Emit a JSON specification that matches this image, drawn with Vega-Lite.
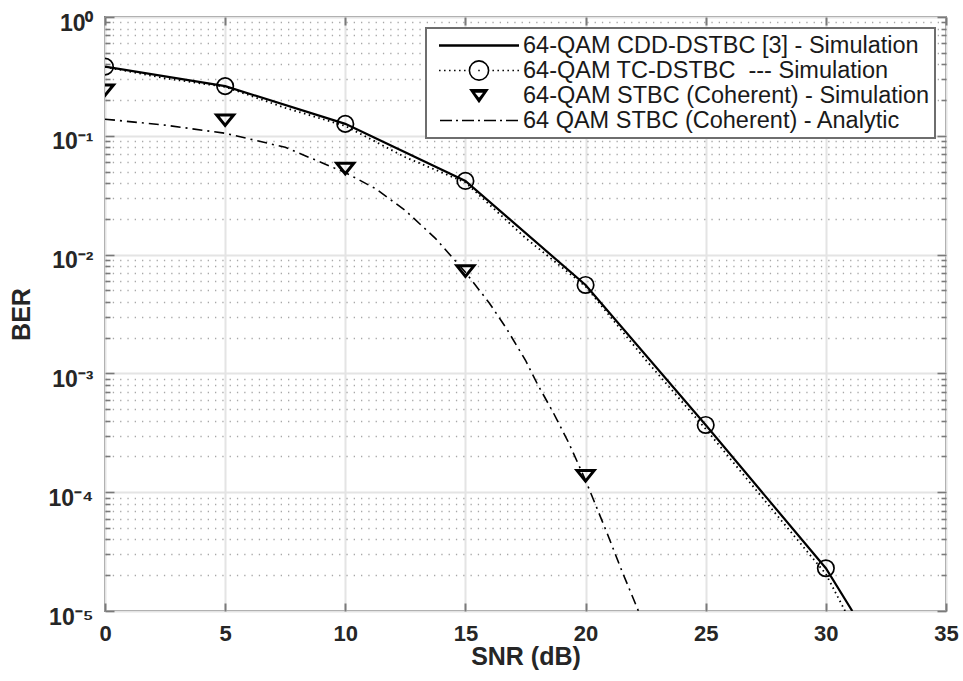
{
  "$schema": "https://vega.github.io/schema/vega-lite/v6.json",
  "width": 841,
  "height": 594,
  "autosize": {"type": "none"},
  "padding": {"left": 105, "top": 17, "right": 17, "bottom": 70},
  "background": "white",
  "datasets": {
    "lines": [
      {"series": "64-QAM CDD-DSTBC [3] - Simulation", "snr": 0, "ber": 0.382},
      {"series": "64-QAM CDD-DSTBC [3] - Simulation", "snr": 5, "ber": 0.262},
      {"series": "64-QAM CDD-DSTBC [3] - Simulation", "snr": 10, "ber": 0.126},
      {"series": "64-QAM CDD-DSTBC [3] - Simulation", "snr": 15, "ber": 0.0417},
      {"series": "64-QAM CDD-DSTBC [3] - Simulation", "snr": 20, "ber": 0.00555},
      {"series": "64-QAM CDD-DSTBC [3] - Simulation", "snr": 25, "ber": 0.000368},
      {"series": "64-QAM CDD-DSTBC [3] - Simulation", "snr": 30, "ber": 0.0000229},
      {"series": "64-QAM CDD-DSTBC [3] - Simulation", "snr": 31.1, "ber": 0.00001},
      {"series": "64-QAM TC-DSTBC\u00a0 --- Simulation", "snr": 0, "ber": 0.38},
      {"series": "64-QAM TC-DSTBC\u00a0 --- Simulation", "snr": 2.5, "ber": 0.305},
      {"series": "64-QAM TC-DSTBC\u00a0 --- Simulation", "snr": 5, "ber": 0.258},
      {"series": "64-QAM TC-DSTBC\u00a0 --- Simulation", "snr": 7.5, "ber": 0.172},
      {"series": "64-QAM TC-DSTBC\u00a0 --- Simulation", "snr": 10, "ber": 0.121},
      {"series": "64-QAM TC-DSTBC\u00a0 --- Simulation", "snr": 12.5, "ber": 0.066},
      {"series": "64-QAM TC-DSTBC\u00a0 --- Simulation", "snr": 15, "ber": 0.0405},
      {"series": "64-QAM TC-DSTBC\u00a0 --- Simulation", "snr": 17.5, "ber": 0.0138},
      {"series": "64-QAM TC-DSTBC\u00a0 --- Simulation", "snr": 20, "ber": 0.0054},
      {"series": "64-QAM TC-DSTBC\u00a0 --- Simulation", "snr": 22.5, "ber": 0.0013},
      {"series": "64-QAM TC-DSTBC\u00a0 --- Simulation", "snr": 25, "ber": 0.00034},
      {"series": "64-QAM TC-DSTBC\u00a0 --- Simulation", "snr": 27.5, "ber": 0.000083},
      {"series": "64-QAM TC-DSTBC\u00a0 --- Simulation", "snr": 30, "ber": 0.0000205},
      {"series": "64-QAM TC-DSTBC\u00a0 --- Simulation", "snr": 30.8, "ber": 0.00001},
      {"series": "64 QAM STBC (Coherent) - Analytic", "snr": 0, "ber": 0.138},
      {"series": "64 QAM STBC (Coherent) - Analytic", "snr": 2.5, "ber": 0.123},
      {"series": "64 QAM STBC (Coherent) - Analytic", "snr": 5, "ber": 0.105},
      {"series": "64 QAM STBC (Coherent) - Analytic", "snr": 7.5, "ber": 0.08},
      {"series": "64 QAM STBC (Coherent) - Analytic", "snr": 10, "ber": 0.049},
      {"series": "64 QAM STBC (Coherent) - Analytic", "snr": 11.25, "ber": 0.036},
      {"series": "64 QAM STBC (Coherent) - Analytic", "snr": 12.5, "ber": 0.0235},
      {"series": "64 QAM STBC (Coherent) - Analytic", "snr": 13.75, "ber": 0.0137},
      {"series": "64 QAM STBC (Coherent) - Analytic", "snr": 15, "ber": 0.0071},
      {"series": "64 QAM STBC (Coherent) - Analytic", "snr": 16, "ber": 0.0039},
      {"series": "64 QAM STBC (Coherent) - Analytic", "snr": 16.7, "ber": 0.0024},
      {"series": "64 QAM STBC (Coherent) - Analytic", "snr": 17.5, "ber": 0.00129},
      {"series": "64 QAM STBC (Coherent) - Analytic", "snr": 18, "ber": 0.00081},
      {"series": "64 QAM STBC (Coherent) - Analytic", "snr": 18.65, "ber": 0.00047},
      {"series": "64 QAM STBC (Coherent) - Analytic", "snr": 19.3, "ber": 0.00026},
      {"series": "64 QAM STBC (Coherent) - Analytic", "snr": 20, "ber": 0.000126},
      {"series": "64 QAM STBC (Coherent) - Analytic", "snr": 20.9, "ber": 0.000045},
      {"series": "64 QAM STBC (Coherent) - Analytic", "snr": 21.5, "ber": 0.000022},
      {"series": "64 QAM STBC (Coherent) - Analytic", "snr": 22.2, "ber": 0.00001}
    ],
    "markers": [
      {"series": "64-QAM TC-DSTBC\u00a0 --- Simulation", "snr": 0, "ber": 0.382},
      {"series": "64-QAM TC-DSTBC\u00a0 --- Simulation", "snr": 5, "ber": 0.262},
      {"series": "64-QAM TC-DSTBC\u00a0 --- Simulation", "snr": 10, "ber": 0.126},
      {"series": "64-QAM TC-DSTBC\u00a0 --- Simulation", "snr": 15, "ber": 0.0417},
      {"series": "64-QAM TC-DSTBC\u00a0 --- Simulation", "snr": 20, "ber": 0.00555},
      {"series": "64-QAM TC-DSTBC\u00a0 --- Simulation", "snr": 25, "ber": 0.000368},
      {"series": "64-QAM TC-DSTBC\u00a0 --- Simulation", "snr": 30, "ber": 0.0000229},
      {"series": "64-QAM STBC (Coherent) - Simulation", "snr": 0, "ber": 0.243},
      {"series": "64-QAM STBC (Coherent) - Simulation", "snr": 5, "ber": 0.136},
      {"series": "64-QAM STBC (Coherent) - Simulation", "snr": 10, "ber": 0.0533},
      {"series": "64-QAM STBC (Coherent) - Simulation", "snr": 15, "ber": 0.0073},
      {"series": "64-QAM STBC (Coherent) - Simulation", "snr": 20, "ber": 0.000138}
    ]
  },
  "layer": [
    {
      "data": {"name": "lines"},
      "transform": [{"filter": "datum.series == '64-QAM CDD-DSTBC [3] - Simulation'"}],
      "mark": {"type": "line", "color": "black", "clip": true, "strokeCap": "butt", "strokeWidth": 2.2},
      "encoding": {
        "x": {
          "field": "snr", "type": "quantitative",
          "scale": {"domain": [0, 35], "nice": false, "zero": false},
          "axis": {
            "orient": "bottom",
            "values": [0, 5, 10, 15, 20, 25, 30, 35],
            "title": "SNR (dB)",
            "grid": true, "gridColor": "#e4e4e4", "gridWidth": 2,
            "domain": false,
            "ticks": true, "tickSize": -8, "tickColor": "#7a7a7a", "tickWidth": 2,
            "labelFontSize": 22, "labelFontWeight": "bold", "labelColor": "#262626",
            "labelPadding": 20, "labelFlush": false,
            "titleFontSize": 25, "titleFontWeight": "bold", "titleColor": "#262626", "titlePadding": 0
          }
        },
        "y": {
          "field": "ber", "type": "quantitative",
          "scale": {"type": "log", "domain": [0.00001, 1], "nice": false},
          "axis": {
            "orient": "left",
            "values": [0.00001,0.00002,0.00003,0.00004,0.00005,0.00006,0.00007,0.00008,0.00009,0.0001,0.0002,0.0003,0.0004,0.0005,0.0006,0.0007,0.0008,0.0009,0.001,0.002,0.003,0.004,0.005,0.006,0.007,0.008,0.009,0.01,0.02,0.03,0.04,0.05,0.06,0.07,0.08,0.09,0.1,0.2,0.3,0.4,0.5,0.6,0.7,0.8,0.9,1],
            "labelExpr": "abs(log(datum.value)/LN10-round(log(datum.value)/LN10))<0.001 ? ['10⁰','10⁻¹','10⁻²','10⁻³','10⁻⁴','10⁻⁵'][abs(round(log(datum.value)/LN10))] : ''",
            "labelOverlap": false, "labelFlush": false,
            "title": "BER",
            "grid": true,
            "gridColor": {"condition": {"test": "abs(log(datum.value)/LN10-round(log(datum.value)/LN10))<0.001", "value": "#e4e4e4"}, "value": "#a8a8a8"},
            "gridWidth": {"condition": {"test": "abs(log(datum.value)/LN10-round(log(datum.value)/LN10))<0.001", "value": 2}, "value": 1.3},
            "gridDash": {"condition": {"test": "abs(log(datum.value)/LN10-round(log(datum.value)/LN10))<0.001", "value": []}, "value": [1.3, 6]},
            "domain": false,
            "ticks": true,
            "tickSize": {"condition": {"test": "abs(log(datum.value)/LN10-round(log(datum.value)/LN10))<0.001", "value": -9}, "value": -5},
            "tickColor": "#7a7a7a", "tickWidth": 1.6,
            "labelFontSize": 23, "labelFontWeight": "bold", "labelColor": "#262626",
            "labelPadding": 21, "labelOffset": 6,
            "titleFontSize": 25, "titleFontWeight": "bold", "titleColor": "#262626", "titlePadding": 14
          }
        }
      }
    },
    {
      "data": {"name": "lines"},
      "transform": [{"filter": "indexof(datum.series, 'TC-DSTBC') >= 0"}],
      "mark": {"type": "line", "color": "black", "clip": true, "strokeCap": "butt", "strokeWidth": 1.8, "strokeDash": [1.5, 3.5]},
      "encoding": {
        "x": {"field": "snr", "type": "quantitative", "scale": {"domain": [0, 35], "nice": false, "zero": false}, "axis": null},
        "y": {"field": "ber", "type": "quantitative", "scale": {"type": "log", "domain": [0.00001, 1], "nice": false}, "axis": null}
      }
    },
    {
      "data": {"name": "lines"},
      "transform": [{"filter": "datum.series == '64 QAM STBC (Coherent) - Analytic'"}],
      "mark": {"type": "line", "color": "black", "clip": true, "strokeCap": "butt", "strokeWidth": 1.6, "strokeDash": [10, 5, 2, 5]},
      "encoding": {
        "x": {"field": "snr", "type": "quantitative", "scale": {"domain": [0, 35], "nice": false, "zero": false}, "axis": null},
        "y": {"field": "ber", "type": "quantitative", "scale": {"type": "log", "domain": [0.00001, 1], "nice": false}, "axis": null}
      }
    },
    {
      "data": {"name": "markers"},
      "transform": [{"filter": "indexof(datum.series, 'TC-DSTBC') >= 0"}],
      "mark": {"type": "point", "shape": "circle", "filled": false, "color": "black", "clip": true, "opacity": 1, "size": 270, "strokeWidth": 1.7},
      "encoding": {
        "x": {
          "field": "snr", "type": "quantitative",
          "scale": {"domain": [0, 35], "nice": false, "zero": false},
          "axis": {
            "orient": "top", "values": [0, 5, 10, 15, 20, 25, 30, 35],
            "labels": false, "title": null, "grid": false, "domain": false,
            "ticks": true, "tickSize": -8, "tickColor": "#7a7a7a", "tickWidth": 2
          }
        },
        "y": {
          "field": "ber", "type": "quantitative",
          "scale": {"type": "log", "domain": [0.00001, 1], "nice": false},
          "axis": {
            "orient": "right",
            "values": [0.00001,0.00002,0.00003,0.00004,0.00005,0.00006,0.00007,0.00008,0.00009,0.0001,0.0002,0.0003,0.0004,0.0005,0.0006,0.0007,0.0008,0.0009,0.001,0.002,0.003,0.004,0.005,0.006,0.007,0.008,0.009,0.01,0.02,0.03,0.04,0.05,0.06,0.07,0.08,0.09,0.1,0.2,0.3,0.4,0.5,0.6,0.7,0.8,0.9,1],
            "labels": false, "title": null, "grid": false, "domain": false,
            "ticks": true,
            "tickSize": {"condition": {"test": "abs(log(datum.value)/LN10-round(log(datum.value)/LN10))<0.001", "value": -9}, "value": -5},
            "tickColor": "#7a7a7a", "tickWidth": 1.6
          }
        }
      }
    },
    {
      "data": {"name": "markers"},
      "transform": [{"filter": "datum.series == '64-QAM STBC (Coherent) - Simulation'"}],
      "mark": {"type": "point", "shape": "M-0.85,-0.5L0.85,-0.5L0,0.55Z", "filled": false, "color": "black", "clip": true, "opacity": 1, "size": 400, "strokeWidth": 3, "strokeJoin": "miter"},
      "encoding": {
        "x": {"field": "snr", "type": "quantitative", "scale": {"domain": [0, 35], "nice": false, "zero": false}, "axis": null},
        "y": {"field": "ber", "type": "quantitative", "scale": {"type": "log", "domain": [0.00001, 1], "nice": false}, "axis": null}
      }
    },
    {
      "data": {"name": "markers"},
      "mark": {"type": "point", "filled": false, "color": "black", "opacity": 0, "size": 1, "strokeWidth": 1.6},
      "encoding": {
        "x": {"field": "snr", "type": "quantitative", "scale": {"domain": [0, 35], "nice": false, "zero": false}, "axis": null},
        "y": {"field": "ber", "type": "quantitative", "scale": {"type": "log", "domain": [0.00001, 1], "nice": false}, "axis": null},
        "shape": {
          "field": "series", "type": "nominal",
          "scale": {
            "domain": ["64-QAM CDD-DSTBC [3] - Simulation", "64-QAM TC-DSTBC\u00a0 --- Simulation", "64-QAM STBC (Coherent) - Simulation", "64 QAM STBC (Coherent) - Analytic"],
            "range": [
              "M-1,-0.012L1,-0.012M-1,0.012L1,0.012",
              "M-0.999,0L-0.961,0M-0.874,0L-0.836,0M-0.749,0L-0.711,0M-0.624,0L-0.586,0M-0.499,0L-0.461,0M-0.374,0L-0.336,0M-0.019,0L0.019,0M0.336,0L0.374,0M0.461,0L0.499,0M0.586,0L0.624,0M0.711,0L0.749,0M0.836,0L0.874,0M0.961,0L0.999,0M0.24,0A0.24,0.24,0,1,1,-0.24,0A0.24,0.24,0,1,1,0.24,0",
              "M-0.21,-0.14L0.21,-0.14L0,0.16ZM-0.175,-0.115L0.175,-0.115L0,0.125ZM-0.14,-0.09L0.14,-0.09L0,0.09Z",
              "M-0.975,0L-0.675,0M-0.575,0L-0.525,0M-0.425,0L-0.125,0M-0.025,0L0.025,0M0.125,0L0.425,0M0.525,0L0.575,0M0.675,0L0.975,0"
            ]
          },
          "legend": {
            "title": null,
            "orient": "top-right",
            "offset": 11,
            "padding": 5,
            "fillColor": "white",
            "strokeColor": "#6e6e6e",
            "labelFont": "Liberation Sans",
            "labelFontSize": 23.5,
            "labelColor": "#1a1a1a",
            "labelLimit": 0,
            "labelOffset": 3,
            "symbolOffset": 7,
            "symbolSize": 6400,
            "symbolOpacity": 1,
            "symbolStrokeColor": "black",
            "symbolFillColor": "transparent",
            "symbolStrokeWidth": 1.6,
            "clipHeight": 25,
            "rowPadding": 0
          }
        }
      }
    }
  ],
  "resolve": {"scale": {"x": "independent", "y": "independent"}},
  "config": {
    "font": "Liberation Sans",
    "view": {"stroke": "#7f7f7f", "strokeWidth": 2},
    "axis": {"labelFont": "Liberation Sans", "titleFont": "Liberation Sans"},
    "legend": {"strokeWidth": 2}
  }
}
